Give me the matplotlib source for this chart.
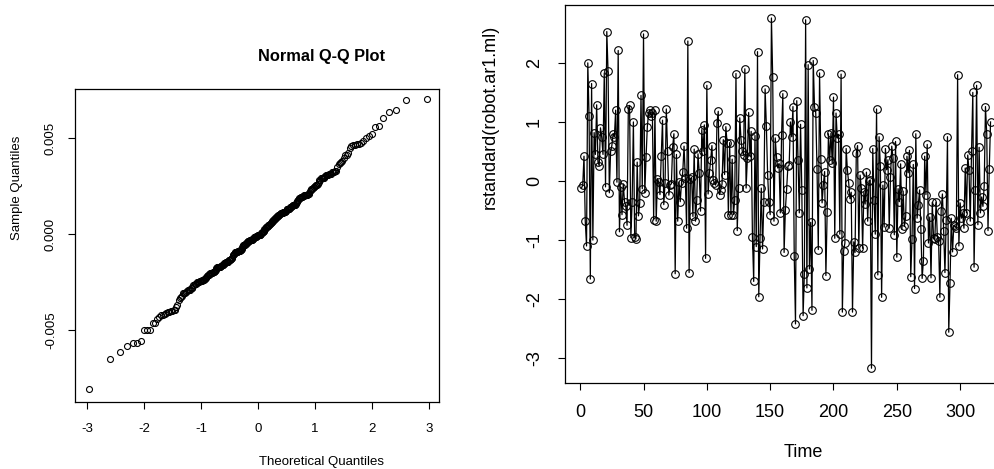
import matplotlib
matplotlib.use('Agg')
import matplotlib.pyplot as plt
from statistics import NormalDist

plt.rcParams['font.family'] = ['Liberation Sans', 'DejaVu Sans']

# standardized residuals (t = 1..324)
resid = [
    -0.12, -0.07, 0.42, -0.68, -1.10, 2.00, 1.10, -1.66, 1.65, -1.00,
    0.82, 0.45, 1.29, 0.33, 0.26, 0.90, 0.74, 0.45, 1.83, -0.10,
    2.53, 1.86, -0.20, 0.50, 0.60, 0.80, 0.75, 1.20, -0.02, 2.21,
    -0.86, -0.10, -0.57, -0.05, -0.35, -0.42, -0.75, 1.22, 1.28, -0.96,
    -0.35, 1.00, -0.95, -0.98, 0.32, -0.59, -0.37, 1.45, -0.13, 2.49,
    -0.20, 0.40, 0.92, 1.15, 1.20, 1.10, 1.15, -0.66, 1.20, -0.68,
    0.04, -0.02, -0.23, 0.43, 1.03, -0.40, -0.03, 1.22, 0.50, -0.24,
    -0.06, -0.05, 0.58, 0.80, -1.57, 0.45, -0.68, -0.02, -0.35, -0.03,
    0.16, 0.59, 0.05, -0.80, 2.37, -1.55, 0.04, 0.06, -0.60, 0.54,
    -0.68, -0.33, 0.46, 0.14, -0.51, 0.87, 0.50, 0.95, -1.31, 1.62,
    -0.22, 0.14, 0.35, 0.60, 0.02, -0.03, -0.07, 0.98, 1.18, -0.23,
    -0.15, -0.05, 0.70, 0.11, 0.92, 0.64, -0.57, 0.65, -0.57, 0.37,
    -0.57, -0.32, 1.82, -0.84, -0.11, 1.07, 0.70, 0.50, 0.44, 1.90,
    -0.12, 0.39, 1.16, 0.42, 0.84, -0.94, -1.70, 0.77, -1.11, 2.19,
    -1.96, -0.97, -0.12, -1.15, -0.35, 1.56, 0.93, 0.10, -0.36, -0.57,
    2.76, 1.76, -0.68, 0.73, 0.40, 0.22, 0.30, -0.54, 0.78, 1.48,
    -1.21, -0.49, -0.14, 0.25, 0.27, 1.00, 0.75, 1.26, -1.27, -2.42,
    1.36, 0.36, -0.54, 0.96, -0.16, -2.28, -1.57, 2.73, -1.81, 1.97,
    -1.49, -0.70, -2.19, 2.04, 1.26, 1.15, 0.20, -1.16, 1.83, 0.38,
    -0.37, -0.06, 0.16, -1.60, -0.52, 0.80, 0.35, 0.81, 0.30, 1.42,
    -0.97, 1.15, 0.73, 0.79, -0.90, 1.81, -2.22, -1.18, -1.05, 0.55,
    0.18, -0.03, -0.30, -0.19, -2.22, -1.03, -1.21, 0.47, 0.60, -1.14,
    0.10, -0.12, -1.14, -0.19, -0.39, 0.15, -0.68, 0.00, 0.02, -3.17,
    0.55, -0.33, -0.90, 1.22, -1.59, 0.75, 0.25, -1.97, -0.07, -0.78,
    0.55, 0.19, 0.36, -0.80, 0.07, 0.59, 0.39, -0.91, 0.67, -1.29,
    -0.13, -0.35, 0.29, -0.82, -0.17, -0.77, -0.60, 0.42, 0.14, 0.52,
    -1.62, -0.98, 0.28, -1.82, 0.80, -0.63, -0.40, -0.15, -0.82, -1.65,
    -1.35, 0.42, -0.23, 0.62, -1.05, -0.61, -1.64, -0.36, -0.97, -0.99,
    -0.36, -0.95, -1.02, -1.97, -0.50, -0.22, -0.85, -1.55, -0.66, 0.75,
    -2.56, -1.73, -0.63, -1.20, -0.75, -0.77, -0.80, 1.80, -1.10, -0.37,
    -0.63, -0.55, -0.80, 0.22, -0.54, 0.44, 0.18, -0.68, 0.50, 1.50,
    -1.46, -0.15, 1.62, -0.74, 0.57, -0.54, -0.27, -0.43, -0.08, 1.26,
    0.80, -0.84, 0.20, 1.00,
]
time = list(range(1, len(resid) + 1))
sigma = 0.00255  # scale of the raw residuals in the Q-Q panel

qq_xticks = [-3, -2, -1, 0, 1, 2, 3]
qq_yticks = [-0.005, 0.0, 0.005]
qq_ylabels = ['-0.005', '0.000', '0.005']
ts_xticks = [0, 50, 100, 150, 200, 250, 300]
ts_yticks = [-3, -2, -1, 0, 1, 2]

# Q-Q points
n = len(resid)
sample_q = sorted(r * sigma for r in resid)
theo_q = [NormalDist().inv_cdf((i - 0.5) / n) for i in range(1, n + 1)]

W, H = 995, 469
fig = plt.figure(figsize=(W / 100, H / 100), dpi=100)

# left: normal Q-Q plot
ax1 = fig.add_axes([75 / W, 1 - 402 / H, 364 / W, 313 / H])
ax1.plot(theo_q, sample_q, 'o', mfc='none', mec='black', ms=4.3, mew=0.8)
ax1.set_xlim(-3.21, 3.175)
ax1.set_ylim(-0.00875, 0.00755)
ax1.set_xticks(qq_xticks)
ax1.set_xticklabels([str(v) for v in qq_xticks])
ax1.set_yticks(qq_yticks)
ax1.set_yticklabels(qq_ylabels, rotation=90, va='center')
ax1.tick_params(labelsize=9.5, length=5, width=0.8, pad=10)
ax1.tick_params(axis='y', pad=8)
for s in ax1.spines.values():
    s.set_linewidth(0.9)
fig.text(322 / W, 1 - 57 / H, 'Normal Q-Q Plot', ha='center', va='center',
         fontsize=11.8, fontweight='bold')
fig.text(322 / W, 1 - 462 / H, 'Theoretical Quantiles', ha='center', va='center', fontsize=9.5)
fig.text(17 / W, 1 - 188 / H, 'Sample Quantiles', ha='center', va='center',
         rotation=90, fontsize=9.5)

# right: standardized residuals over time
ax2 = fig.add_axes([565 / W, 1 - 383 / H, 442 / W, 378 / H])
ax2.plot(time, resid, '-o', color='black', lw=0.9, mfc='none', mec='black', ms=5.5, mew=0.8)
ax2.set_xlim(-12, 337)
ax2.set_ylim(-3.42, 2.98)
ax2.set_xticks(ts_xticks)
ax2.set_xticklabels([str(v) for v in ts_xticks])
ax2.set_yticks(ts_yticks)
ax2.set_yticklabels([str(v) for v in ts_yticks], rotation=90, va='center')
ax2.tick_params(labelsize=13, length=5, width=0.8, pad=10)
ax2.tick_params(axis='y', pad=11)
for s in ax2.spines.values():
    s.set_linewidth(0.9)
fig.text(803 / W, 1 - 452 / H, 'Time', ha='center', va='center', fontsize=13)
fig.text(490 / W, 1 - 117 / H, 'rstandard(robot.ar1.ml)', ha='center', va='center',
         rotation=90, fontsize=13)

fig.savefig('out.png', dpi=100)
